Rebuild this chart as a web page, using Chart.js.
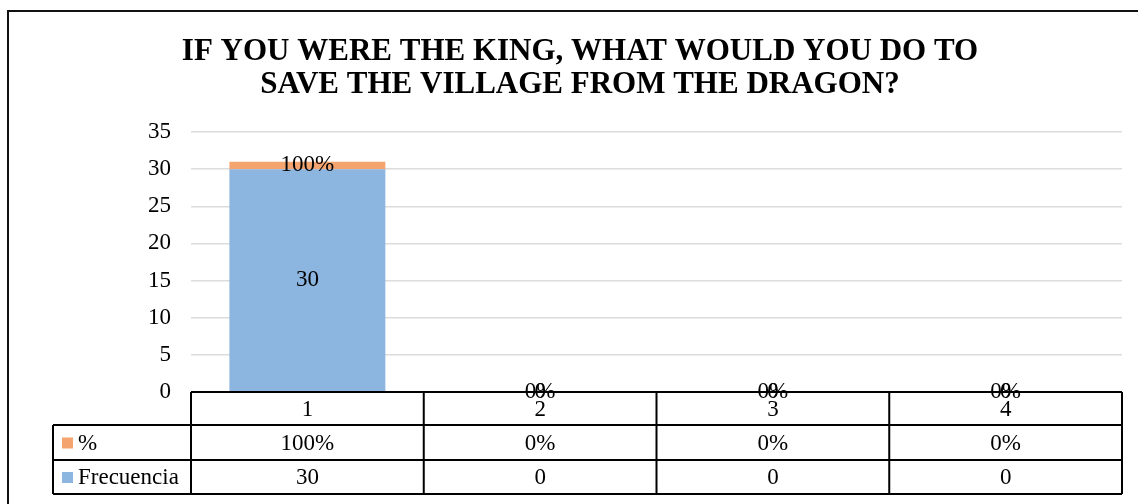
<!DOCTYPE html>
<html>
<head>
<meta charset="utf-8">
<script src="https://cdn.jsdelivr.net/npm/chart.js@4.4.1/dist/chart.umd.min.js"></script>
<style>
  html, body { margin: 0; padding: 0; background: #fff; }
  #wrap { width: 1138px; height: 504px; }
</style>
</head>
<body>
<div id="wrap"><canvas id="chart" width="1138" height="504"></canvas></div>
<script>
// Chart data
const categories = ['1', '2', '3', '4']
const frecuencia = [30, 0, 0, 0]
const porcentaje = [1, 0, 0, 0]   // 1 = 100%
const titleLines = ['IF YOU WERE THE KING, WHAT WOULD YOU DO TO', 'SAVE THE VILLAGE FROM THE DRAGON?']
const yMin = 0
const yMax = 35
const yStep = 5

// Colors
const color_freq = '#8cb5e0'
const color_pct = '#f3a46f'
const font_family = '"Liberation Serif", "Times New Roman", serif'
const text_size = 23

const fmtPct = v => Math.round(v * 100) + '%'

// Title, data labels, outer frame and the data table under the plot
const decorations = {
    id: 'decorations',
    afterDraw(chart) {
        const ctx = chart.ctx
        const area = chart.chartArea
        const xs = chart.scales.x
        ctx.save()

        // outer frame
        ctx.strokeStyle = '#111'
        ctx.lineWidth = 2
        ctx.strokeRect(8, 11, 1140, 500)

        // title
        ctx.fillStyle = '#000'
        ctx.font = 'bold 31px ' + font_family
        ctx.textAlign = 'center'
        ctx.textBaseline = 'alphabetic'
        titleLines.forEach((line, i) => ctx.fillText(line, 580, 60 + i * 33))

        // data labels
        ctx.font = text_size + 'px ' + font_family
        ctx.textBaseline = 'middle'
        const labelSets = [frecuencia.map(String), porcentaje.map(fmtPct)]
        labelSets.forEach((labels, d) => {
            chart.getDatasetMeta(d).data.forEach((el, i) => {
                ctx.fillText(labels[i], el.x, (el.y + el.base) / 2)
            })
        })

        // data table
        const colW = (area.right - area.left) / categories.length
        const rows = [area.bottom, 425, 460, 494]
        const legendLeft = 53
        ctx.strokeStyle = '#000'
        ctx.lineWidth = 2
        ctx.beginPath()
        ctx.moveTo(area.left, rows[0]); ctx.lineTo(area.right, rows[0])
        for (let r = 1; r < rows.length; r++) {
            ctx.moveTo(legendLeft, rows[r]); ctx.lineTo(area.right, rows[r])
        }
        for (let c = 0; c <= categories.length; c++) {
            const x = area.left + c * colW
            ctx.moveTo(x, rows[0]); ctx.lineTo(x, rows[3])
        }
        ctx.moveTo(legendLeft, rows[1]); ctx.lineTo(legendLeft, rows[3])
        ctx.stroke()

        ctx.fillStyle = '#000'
        ctx.textAlign = 'center'
        const pctRow = porcentaje.map(fmtPct)
        const freqRow = frecuencia.map(String)
        categories.forEach((cat, i) => {
            const cx = xs.getPixelForValue(i)
            ctx.fillText(cat, cx, (rows[0] + rows[1]) / 2 + 1)
            ctx.fillText(pctRow[i], cx, (rows[1] + rows[2]) / 2 + 1)
            ctx.fillText(freqRow[i], cx, (rows[2] + rows[3]) / 2 + 1)
        })

        // legend keys inside the table
        const keys = [['%', color_pct], ['Frecuencia', color_freq]]
        keys.forEach((k, r) => {
            const cy = (rows[r + 1] + rows[r + 2]) / 2
            ctx.fillStyle = k[1]
            ctx.fillRect(62, cy - 5, 11, 11)
            ctx.fillStyle = '#000'
            ctx.textAlign = 'left'
            ctx.fillText(k[0], 78, cy + 1)
        })
        ctx.restore()
    }
}

const config = {
    type: 'bar',
    data: {
        labels: categories,
        datasets: [{
                label: 'Frecuencia',
                data: frecuencia,
                backgroundColor: color_freq,
                borderWidth: 0,
            },
            {
                label: '%',
                data: porcentaje,
                backgroundColor: color_pct,
                borderWidth: 0,
            },
        ]
    },
    options: {
        responsive: false,
        animation: false,
        events: [],
        categoryPercentage: 1,
        barPercentage: 0.67,
        layout: {
            padding: { left: 0, right: 16, top: 132, bottom: 112 },
        },
        plugins: {
            legend: { display: false },
            title: { display: false },
            tooltip: { enabled: false },
        },
        scales: {
            x: {
                stacked: true,
                display: false,
            },
            y: {
                stacked: true,
                min: yMin,
                max: yMax,
                border: { display: false },
                grid: {
                    color: '#dcdcdc',
                    lineWidth: 1.5,
                    drawTicks: false,
                },
                ticks: {
                    stepSize: yStep,
                    padding: 20,
                    color: '#000',
                    font: { family: font_family, size: text_size },
                },
                afterFit(scale) {
                    scale.width = 191
                },
            },
        },
    },
    plugins: [decorations],
}

const chart = new Chart(document.getElementById('chart').getContext('2d'), config)
</script>
</body>
</html>
